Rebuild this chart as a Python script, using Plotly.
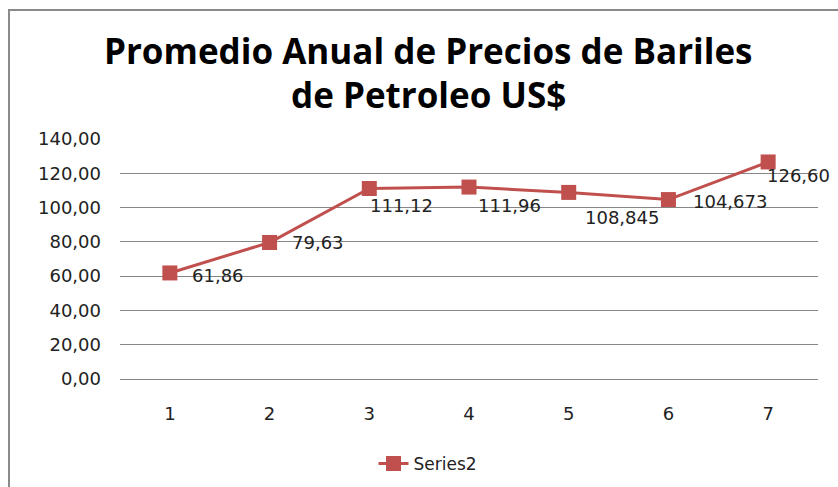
import plotly.graph_objects as go

# Annual average oil barrel prices (US$)
years = ["1", "2", "3", "4", "5", "6", "7"]
prices = [61.86, 79.63, 111.12, 111.96, 108.845, 104.673, 126.60]
labels = ["61,86", "79,63", "111,12", "111,96", "108,845", "104,673", "126,60"]
y_ticks = [0, 20, 40, 60, 80, 100, 120, 140]
y_tick_text = ["0,00", "20,00", "40,00", "60,00", "80,00", "100,00", "120,00", "140,00"]

# label offsets (px) to mimic the Excel placement
label_dx = [48, 48, 32, 40, 53, 62, 30]
label_dy = [-3, 0, -17, -18, -25, -2, -14]

W, H = 838, 487
L, R, T, B = 120, 20, 139, 108
red = "#C0504D"
font = "DejaVu Sans, sans-serif"

fig = go.Figure()
fig.add_trace(go.Scatter(
    x=years, y=prices, mode="lines+markers", name="Series2",
    line=dict(color=red, width=3),
    marker=dict(symbol="square", size=15, color=red),
))

for i, (y, t, dx, dy) in enumerate(zip(prices, labels, label_dx, label_dy)):
    fig.add_annotation(x=i, y=y, text=t, showarrow=False, xshift=dx, yshift=dy,
                       font=dict(family=font, size=18, color="#222"))

pw, ph = W - L - R, H - T - B

# two title lines
for txt, py in [("Promedio Anual de Precios de Bariles", 50), ("de Petroleo US$", 94)]:
    fig.add_annotation(xref="paper", yref="paper", x=(428 - L) / pw, y=1 + (T - py) / ph,
                       text="<b>" + txt + "</b>", showarrow=False,
                       xanchor="center", yanchor="middle",
                       font=dict(family="Open Sans, sans-serif", size=35, color="black"))

# chart area border (Excel style), right/bottom edges fall outside the window
fig.add_shape(type="rect", xref="paper", yref="paper",
              x0=(9 - L) / pw, x1=(W + 20 - L) / pw,
              y0=-(H + 20 - T - ph) / ph, y1=1 + (T - 10) / ph,
              line=dict(color="#8a8a8a", width=2), layer="below")

fig.update_layout(
    width=W, height=H,
    margin=dict(l=L, r=R, t=T, b=B, autoexpand=False),
    paper_bgcolor="white", plot_bgcolor="white",
    font=dict(family=font, color="#222"),
    showlegend=True,
    legend=dict(orientation="h", x=(428 - L) / pw, xanchor="center",
                y=-(464 - 379) / ph, yanchor="middle", font=dict(size=17)),
    xaxis=dict(type="category", range=[-0.5, 6.5], showgrid=False,
               showline=False, ticks="", ticklabelstandoff=22,
               tickfont=dict(size=18)),
    yaxis=dict(range=[0, 140], tickvals=y_ticks, ticktext=y_tick_text,
               showgrid=True, gridcolor="#868686", gridwidth=1,
               zeroline=True, zerolinecolor="#868686", zerolinewidth=1,
               showline=False, ticks="", ticklabelstandoff=18,
               tickfont=dict(size=18)),
)

# drop the default page margin so the figure sits at the window's corner
fig.write_html("out.html", config={"displayModeBar": False},
               post_script="document.body.style.margin='0';")
